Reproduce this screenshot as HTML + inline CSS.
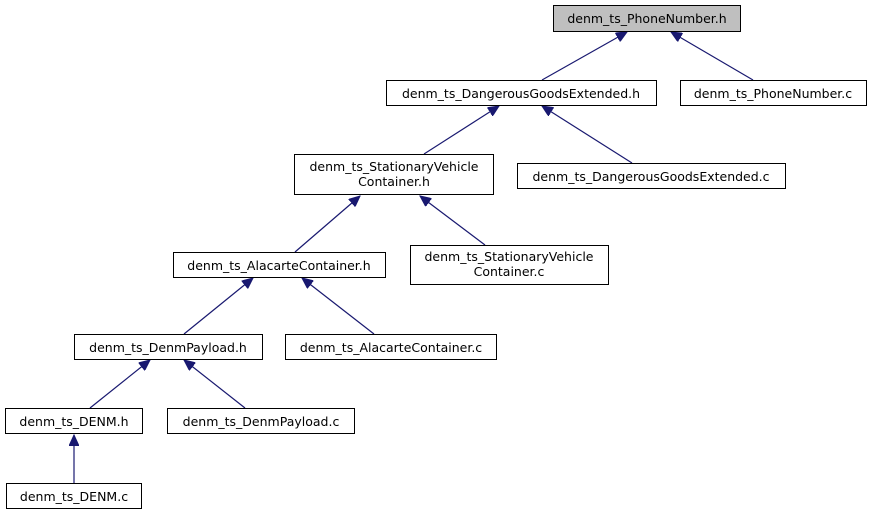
<!DOCTYPE html>
<html><head><meta charset="utf-8"><style>
html,body{margin:0;padding:0;background:#fff;}
svg{display:block;}
text{font-family:"DejaVu Sans","Liberation Sans",sans-serif;font-size:12.5px;fill:#000;text-anchor:middle;}
rect{fill:#fff;stroke:#000;stroke-width:1;}
line{stroke:#191970;stroke-width:1.2;}
</style></head><body>
<svg width="873" height="515" viewBox="0 0 873 515" xmlns="http://www.w3.org/2000/svg">
<defs>
<marker id="a" markerWidth="12" markerHeight="10" refX="11" refY="5" orient="auto" markerUnits="userSpaceOnUse">
<path d="M0,0 L11,5 L0,10 Z" fill="#191970" stroke="#191970"/>
</marker>
</defs>
<line x1="542" y1="80" x2="627" y2="32" marker-end="url(#a)"/>
<line x1="753" y1="80" x2="671" y2="32" marker-end="url(#a)"/>
<line x1="424" y1="154" x2="499" y2="106" marker-end="url(#a)"/>
<line x1="632" y1="163" x2="542" y2="106" marker-end="url(#a)"/>
<line x1="295" y1="252" x2="360" y2="196" marker-end="url(#a)"/>
<line x1="485" y1="245" x2="420" y2="196" marker-end="url(#a)"/>
<line x1="184" y1="334" x2="253" y2="278" marker-end="url(#a)"/>
<line x1="374" y1="334" x2="302" y2="278" marker-end="url(#a)"/>
<line x1="90" y1="408" x2="150" y2="360" marker-end="url(#a)"/>
<line x1="245" y1="408" x2="184" y2="360" marker-end="url(#a)"/>
<line x1="74" y1="483" x2="74" y2="435" marker-end="url(#a)"/>

<rect x="553.5" y="5.5" width="187" height="26" style="fill:#bfbfbf"/>
<text x="647" y="23">denm_ts_PhoneNumber.h</text>
<rect x="386.5" y="80.5" width="270" height="25"/>
<text x="521" y="98">denm_ts_DangerousGoodsExtended.h</text>
<rect x="680.5" y="80.5" width="186" height="25"/>
<text x="773" y="98">denm_ts_PhoneNumber.c</text>
<rect x="294.5" y="154.5" width="199" height="40"/>
<text x="394" y="171">denm_ts_StationaryVehicle</text>
<text x="394" y="186">Container.h</text>
<rect x="517.5" y="163.5" width="268" height="25"/>
<text x="651" y="181">denm_ts_DangerousGoodsExtended.c</text>
<rect x="173.5" y="252.5" width="212" height="25"/>
<text x="279" y="270">denm_ts_AlacarteContainer.h</text>
<rect x="410.5" y="245.5" width="198" height="39"/>
<text x="509" y="261">denm_ts_StationaryVehicle</text>
<text x="509" y="276">Container.c</text>
<rect x="74.5" y="334.5" width="188" height="25"/>
<text x="168" y="352">denm_ts_DenmPayload.h</text>
<rect x="285.5" y="334.5" width="211" height="25"/>
<text x="391" y="352">denm_ts_AlacarteContainer.c</text>
<rect x="5.5" y="408.5" width="137" height="25"/>
<text x="74" y="426">denm_ts_DENM.h</text>
<rect x="167.5" y="408.5" width="187" height="25"/>
<text x="261" y="426">denm_ts_DenmPayload.c</text>
<rect x="6.5" y="483.5" width="135" height="25"/>
<text x="74" y="501">denm_ts_DENM.c</text>
</svg>
</body></html>
